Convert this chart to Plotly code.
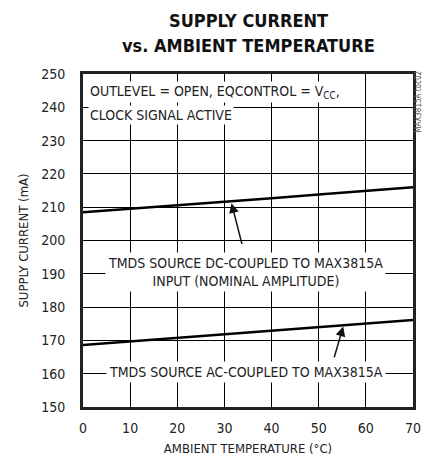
import plotly.graph_objects as go

temp = [0, 10, 20, 30, 40, 50, 60, 70]
dc_current = [208.5, 209.5, 210.6, 211.6, 212.7, 213.8, 214.9, 216.0]
ac_current = [168.6, 169.7, 170.7, 171.8, 172.9, 174.0, 175.1, 176.1]
x_ticks = [0, 10, 20, 30, 40, 50, 60, 70]
y_ticks = [150, 160, 170, 180, 190, 200, 210, 220, 230, 240, 250]

FONT = "Liberation Sans Narrow, Arial Narrow, DejaVu Sans Condensed, Liberation Sans, sans-serif"

fig = go.Figure()
for y in (dc_current, ac_current):
    fig.add_trace(go.Scatter(x=temp, y=y, mode="lines",
                             line=dict(color="black", width=2.5),
                             showlegend=False, hoverinfo="skip"))

fig.update_layout(
    width=424, height=466,
    margin=dict(l=83, r=11, t=74, b=59, autoexpand=False),
    paper_bgcolor="white", plot_bgcolor="white",
    font=dict(family=FONT, color="#222", size=14),
)
fig.update_xaxes(range=[0, 70], tickvals=x_ticks, showgrid=True, gridcolor="#000000",
                 gridwidth=1, griddash="solid", zeroline=False, showline=True,
                 linecolor="#222", linewidth=3, mirror=True, ticks="",
                 ticklabelstandoff=6, tickfont=dict(size=14), automargin=False,
                 title=dict(text="AMBIENT TEMPERATURE (°C)", standoff=10,
                            font=dict(size=13)))
fig.update_yaxes(range=[150, 250], tickvals=y_ticks, showgrid=True, gridcolor="#000000",
                 gridwidth=1, griddash="solid", zeroline=False, showline=True,
                 linecolor="#222", linewidth=3, mirror=True, ticks="",
                 ticklabelstandoff=12, tickfont=dict(size=14), automargin=False,
                 title=dict(text="SUPPLY CURRENT (mA)", standoff=10,
                            font=dict(size=13)))

title_font = dict(family=FONT, size=18, color="#111")
fig.add_annotation(x=0.5, y=1.162, xref="paper", yref="paper", xanchor="center",
                   yanchor="middle", text="<b>SUPPLY CURRENT</b>", showarrow=False,
                   font=title_font)
fig.add_annotation(x=0.5, y=1.087, xref="paper", yref="paper", xanchor="center",
                   yanchor="middle", text="<b>vs. AMBIENT TEMPERATURE</b>", showarrow=False,
                   font=title_font)

ann_font = dict(family=FONT, size=14, color="#222")
fig.add_annotation(x=1.0, y=244.6, xref="x", yref="y", xanchor="left", yanchor="middle",
                   text="OUTLEVEL = OPEN, EQCONTROL = V<sub>CC</sub>,", showarrow=False,
                   bgcolor="white", borderpad=1, font=ann_font)
fig.add_annotation(x=1.0, y=237.8, xref="x", yref="y", xanchor="left", yanchor="middle",
                   text="CLOCK SIGNAL ACTIVE", showarrow=False,
                   bgcolor="white", borderpad=1, font=ann_font)
fig.add_annotation(x=34.5, y=190.5, xref="x", yref="y", xanchor="center", yanchor="middle",
                   text="TMDS SOURCE DC-COUPLED TO MAX3815A<br>INPUT (NOMINAL AMPLITUDE)",
                   showarrow=False, bgcolor="white", borderpad=2, font=ann_font,
                   align="center")
fig.add_annotation(x=34.5, y=160.6, xref="x", yref="y", xanchor="center", yanchor="middle",
                   text="TMDS SOURCE AC-COUPLED TO MAX3815A", showarrow=False,
                   bgcolor="white", borderpad=2, font=ann_font)
# arrows
fig.add_annotation(x=31.5, y=211.2, ax=33.8, ay=198.5, xref="x", yref="y",
                   axref="x", ayref="y", text="", showarrow=True, arrowhead=2,
                   arrowsize=1.3, arrowwidth=1.5, arrowcolor="#111")
fig.add_annotation(x=55.2, y=174.2, ax=53.2, ay=164.5, xref="x", yref="y",
                   axref="x", ayref="y", text="", showarrow=True, arrowhead=2,
                   arrowsize=1.3, arrowwidth=1.5, arrowcolor="#111")
fig.add_annotation(x=1.0, y=0.915, xref="paper", yref="paper", xanchor="left",
                   yanchor="middle", xshift=0, borderpad=0, text="MAX3815A toc02",
                   textangle=-90, showarrow=False,
                   font=dict(family=FONT, size=8, color="#555"))

fig.write_html("out.html", config={"displayModeBar": False},
               post_script="document.body.style.margin='0';document.body.style.padding='0';")
